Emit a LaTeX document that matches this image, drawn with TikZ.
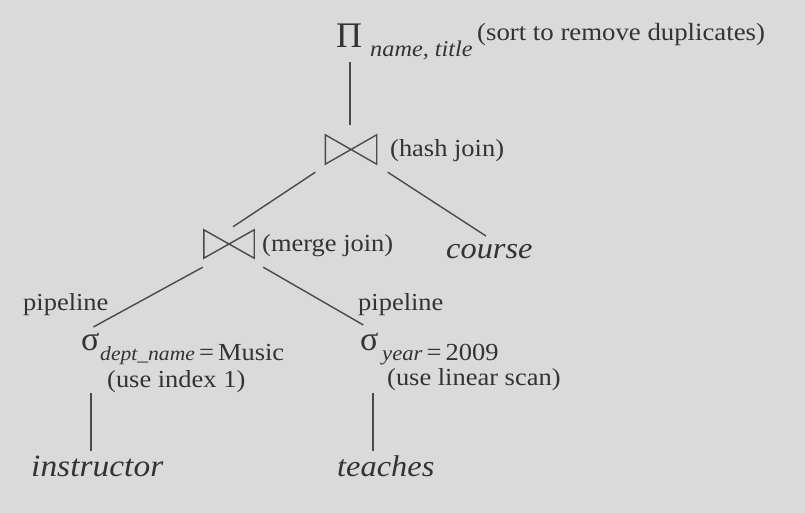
\documentclass[tikz,border=0pt]{standalone}
\usepackage{fontspec}
\setmainfont{Liberation Serif}[FakeStretch=1.08]
\newfontfamily\grk{Liberation Serif}
\usetikzlibrary{calc}
\definecolor{bgc}{HTML}{DADADA}
\definecolor{txc}{HTML}{333333}
\definecolor{lnc}{HTML}{4A4A4A}
\begin{document}
\begin{tikzpicture}[x=1pt,y=-1pt,
  lbl/.style={inner sep=0pt, anchor=base west, text=txc, font=\fontsize{24.5}{28}\selectfont},
  sub/.style={lbl, font=\fontsize{24.8}{28}\selectfont},
  itl/.style={lbl, font=\itshape\fontsize{30}{34}\selectfont},
  greek/.style={lbl, font=\grk\fontsize{36}{40}\selectfont},
  bowtie/.style={inner sep=0pt, minimum width=51pt, minimum height=29pt},
  edge/.style={draw=lnc, line width=1.4pt},
  tie/.style={draw=lnc, line width=1.4pt, line join=miter}]
\fill[bgc] (0,0) rectangle (805,513);
\useasboundingbox (0,0) rectangle (805,513);
% projection
\node[greek] (pi) at (336,48) {Π};
\node[sub, font=\itshape\fontsize{22.5}{26}\selectfont] (pisub) at (370,57) {name, title};
\node[sub] (sort) at (477,41) {(sort to remove duplicates)};
% hash join
\node[bowtie] (hash) at (351,149.5) {};
\node[lbl] (hashl) at (390,157) {(hash join)};
% merge join
\node[bowtie, minimum width=50pt, minimum height=28pt] (merge) at (229,244) {};
\node[lbl] (mergel) at (262,251) {(merge join)};
\node[itl] (course) at (446,258) {course};
% pipelines
\node[lbl] (pipeL) at (23,310) {pipeline};
\node[lbl] (pipeR) at (358,310) {pipeline};
% selections
\node[greek, font=\grk\fontsize{34}{38}\selectfont] (sigL) at (81,350) {σ};
\node[lbl] (condL) at (100,360) {{\itshape\fontsize{20}{24}\selectfont dept\_name}\,=\,Music};
\node[lbl] (idx) at (107,387) {(use index 1)};
\node[greek, font=\grk\fontsize{34}{38}\selectfont] (sigR) at (360,350) {σ};
\node[lbl] (condR) at (382,360) {{\itshape\fontsize{21}{25}\selectfont year}\,=\,2009};
\node[lbl] (scan) at (387,385) {(use linear scan)};
% relations
\node[itl, font=\itshape\fontsize{31}{35}\selectfont] (instr) at (31,476) {instructor};
\node[itl] (teach) at (337,476) {teaches};
% bowties
\draw[tie] (hash.north west) -- (hash.south east) -- (hash.north east) -- (hash.south west) -- cycle;
\draw[tie] (merge.north west) -- (merge.south east) -- (merge.north east) -- (merge.south west) -- cycle;
% connectors
\draw[edge] ($(hash.north)+(-1,-10)$) -- ($(hash.north)+(-1,-73)$);
\draw[edge] ($(hash.south west)+(-10,8)$) -- ($(merge.north)+(4,-3)$);
\draw[edge] ($(hash.south east)+(11,8)$) -- ($(course.base west)+(40,-22)$);
\draw[edge] ($(merge.south west)+(-1,9)$) -- ($(sigL.base)+(3,-23)$);
\draw[edge] ($(merge.south east)+(9,9)$) -- ($(sigR.base)+(-6,-25)$);
\coordinate (lt) at ($(sigL.base)+(0.6,43)$);
\coordinate (rt) at ($(sigR.base)+(3.6,43)$);
\draw[edge, shorten >=4pt] (lt) -- (lt |- instr.north);
\draw[edge, shorten >=4pt] (rt) -- (rt |- teach.north);
\end{tikzpicture}
\end{document}
